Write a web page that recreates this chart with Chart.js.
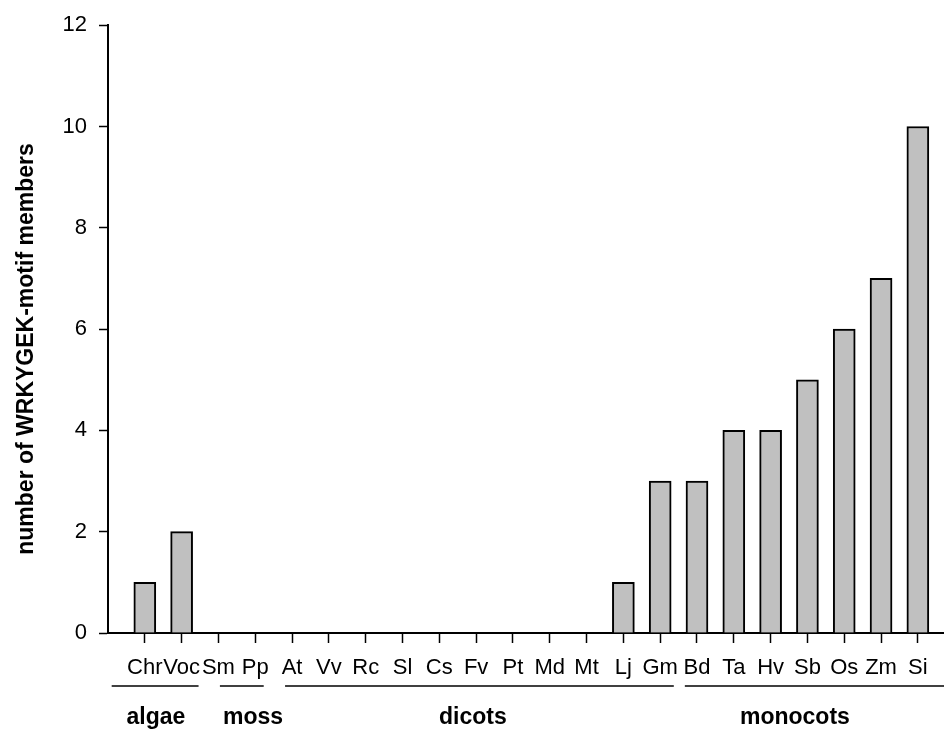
<!DOCTYPE html>
<html>
<head>
<meta charset="utf-8">
<script src="https://cdn.jsdelivr.net/npm/chart.js@4"></script>
<style>
  html, body { margin: 0; padding: 0; background: #fff; }
  #wrap { width: 944px; height: 729px; }
</style>
</head>
<body>
<div id="wrap"><canvas id="chart" width="944" height="729"></canvas></div>
<script>
// species abbreviations and number of WRKYGEK-motif members per species
const species = ["Chr", "Voc", "Sm", "Pp", "At", "Vv", "Rc", "Sl", "Cs", "Fv", "Pt",
                 "Md", "Mt", "Lj", "Gm", "Bd", "Ta", "Hv", "Sb", "Os", "Zm", "Si"];
const members = [1, 2, 0, 0, 0, 0, 0, 0, 0, 0, 0, 0, 0, 1, 3, 3, 4, 4, 5, 6, 7, 10];
const yTicks = [0, 2, 4, 6, 8, 10, 12];
const groupNames = ["algae", "moss", "dicots", "monocots"];
const yTitle = "number of WRKYGEK-motif members";

const FONT = "'Liberation Sans', Arial, sans-serif";

// brackets under the species labels, in x-axis units
const groupSpans = [
  { from: -0.9, to: 1.46, labelAt: 0.3 },
  { from: 2.04, to: 3.23, labelAt: 2.94 },
  { from: 3.81, to: 14.37, labelAt: 8.91 },
  { from: 14.67, to: 21.8, labelAt: 17.66 }
];

const groupPlugin = {
  id: "groups",
  afterDraw(chart) {
    const ctx = chart.ctx;
    const x = chart.scales.x;
    ctx.save();
    ctx.strokeStyle = "#000";
    ctx.lineWidth = 1.5;
    ctx.fillStyle = "#000";
    ctx.font = "bold 23px " + FONT;
    ctx.textAlign = "center";
    ctx.textBaseline = "alphabetic";
    groupNames.forEach((name, i) => {
      const s = groupSpans[i];
      ctx.beginPath();
      ctx.moveTo(x.getPixelForValue(s.from), 686);
      ctx.lineTo(x.getPixelForValue(s.to), 686);
      ctx.stroke();
      ctx.fillText(name, x.getPixelForValue(s.labelAt), 724);
    });
    // rotated y-axis title
    ctx.translate(33, 349);
    ctx.rotate(-Math.PI / 2);
    ctx.fillText(yTitle, 0, 0);
    ctx.restore();
  }
};

new Chart(document.getElementById("chart"), {
  type: "bar",
  data: {
    datasets: [{
      data: members.map((v, i) => ({ x: i, y: v })),
      backgroundColor: "#c0c0c0",
      borderColor: "#000",
      borderWidth: 2,
      barThickness: 22
    }]
  },
  options: {
    responsive: false,
    animation: false,
    layout: { padding: { top: 23, right: 0, left: 0, bottom: 0 } },
    plugins: { legend: { display: false }, tooltip: { enabled: false } },
    scales: {
      x: {
        type: "linear",
        min: -1,
        max: 21.71,
        offset: false,
        afterBuildTicks: (scale) => { scale.ticks = species.map((_, i) => ({ value: i })); },
        afterFit: (scale) => { scale.height = 96; },
        border: { color: "#000", width: 2 },
        grid: { offset: false, drawOnChartArea: false, tickLength: 10, tickColor: "#000", tickWidth: 1.5 },
        ticks: {
          autoSkip: false,
          maxRotation: 0,
          padding: 12,
          color: "#000",
          font: { family: FONT, size: 22 },
          callback: (v) => species[v] ?? ""
        }
      },
      y: {
        min: 0,
        max: 12,
        afterBuildTicks: (scale) => { scale.ticks = yTicks.map(v => ({ value: v })); },
        afterFit: (scale) => { scale.width = 108; },
        border: { color: "#000", width: 2 },
        grid: { drawOnChartArea: false, tickLength: 9, tickColor: "#000", tickWidth: 1.5 },
        ticks: {
          padding: 12,
          color: "#000",
          font: { family: FONT, size: 22 }
        }
      }
    }
  },
  plugins: [groupPlugin]
});
</script>
</body>
</html>
